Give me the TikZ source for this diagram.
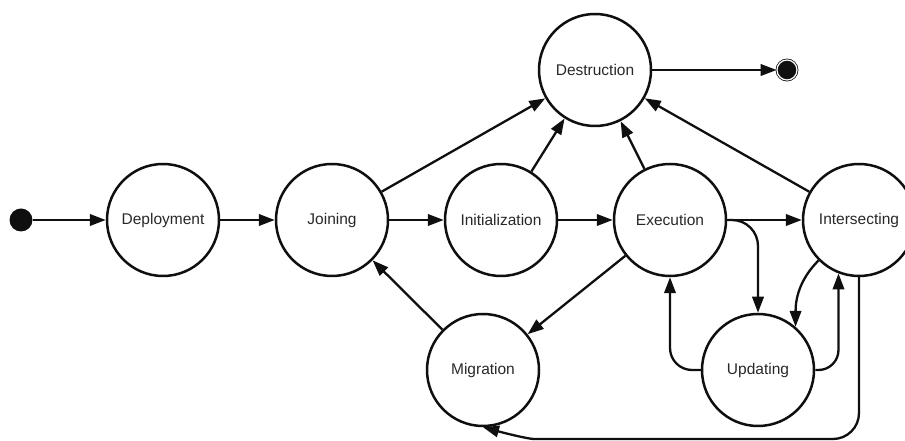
\documentclass[tikz,border=0pt]{standalone}
\usepackage{fontspec}
\setmainfont{Liberation Sans}
\usepackage{xcolor}
\usepackage{tikz}
\usetikzlibrary{arrows.meta}
\definecolor{ink}{RGB}{15,15,15}
\definecolor{label}{RGB}{40,40,40}

\begin{document}
\begin{tikzpicture}[x=1pt,y=1pt,
  state/.style={circle, draw=ink, line width=2.5pt, minimum size=112pt, inner sep=0pt,
    font=\fontsize{15.5}{18}\selectfont, text=label},
  flow/.style={draw=ink, line width=2.3pt, -{Triangle[length=16pt,width=11.5pt]}}]
\useasboundingbox (0,0) rectangle (905,441);
% Pseudo states
\node[circle, fill=ink, minimum size=23pt, inner sep=0pt] (start) at (21,221) {};
\node[circle, fill=ink, draw=ink, double=white, line width=0.8pt, double distance=1.2pt,
  minimum size=20pt, inner sep=0pt] (stop) at (787,371) {};
% States
\node[state] (deploy) at (163,221) {Deployment};
\node[state] (join) at (332,221) {Joining};
\node[state] (init) at (501,221) {Initialization};
\node[state] (exec) at (670,221) {Execution};
\node[state] (isect) at (859,221) {Intersecting};
\node[state] (destr) at (595,371) {Destruction};
\node[state] (update) at (758,71) {Updating};
\node[state] (migr) at (483,71) {Migration};
% Straight transitions
\foreach \a/\b in {start/deploy, deploy/join, join/init, init/exec, exec/isect,
    destr/stop, join/destr, init/destr, exec/destr, isect/destr, exec/migr, migr/join} {
    \draw[flow] (\a) -- (\b);
}
% Bent transitions
\draw[flow, rounded corners=26pt] (exec.east) -| (update.north);
\draw[flow, rounded corners=22pt] (update.west) -| (exec.south);
\draw[flow, rounded corners=20pt] (update.east) -| (isect.249);
\draw[flow] (isect.225) to[out=-135, in=90] (update.49);
\coordinate (low) at (560,2);
\draw[flow, rounded corners=26pt] (isect.south) |- (low) to[out=180, in=-15] (migr.south);
\end{tikzpicture}
\end{document}
